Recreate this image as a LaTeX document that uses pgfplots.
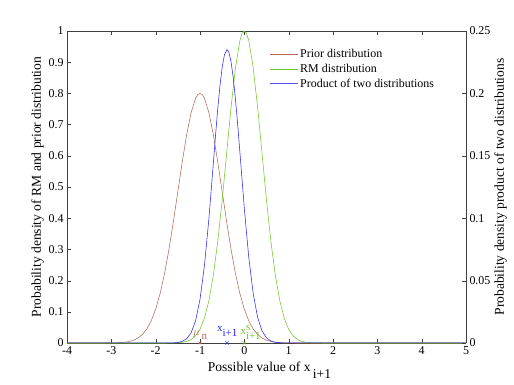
\documentclass[border=0pt]{standalone}
\usepackage{fontspec}
\setmainfont{Liberation Serif}
\usepackage{pgfplots}
\pgfplotsset{compat=1.18}
\definecolor{priorc}{RGB}{180,105,85}
\definecolor{rmc}{RGB}{110,200,40}
\definecolor{prodc}{RGB}{40,40,245}

\begin{document}
\begin{tikzpicture}
\pgfplotsset{
  common/.style={
    scale only axis, width=399bp, height=312bp,
    xmin=-4, xmax=5,
    xtick={-4,-3,...,5},
    tick align=inside,
    tick label style={font=\fontsize{12}{13}\selectfont},
    label style={font=\fontsize{13.6}{15}\selectfont},
    /pgf/number format/assume math mode=true,
    axis line style={black!75},
    major tick style={black!75},
    major tick length=4pt,
  },
}
\begin{axis}[common, name=ax,
  ymin=0, ymax=1,
  ytick={0,0.1,...,1},
  yticklabel style={/pgf/number format/fixed},
  axis y line*=left, axis x line*=box,
  xlabel={Possible value of x\raisebox{-1ex}{\,i+1}},
  ylabel={Probability density of RM and prior distribution},
  xlabel style={yshift=-1pt, xshift=3pt},
  ylabel style={yshift=-2pt},
  legend style={draw=none, fill=none, at={(0.5,0.955)}, anchor=north west,
    font=\fontsize{12}{13}\selectfont, row sep=1pt},
  legend cell align=left,
  legend image code/.code={\draw[#1] (0bp,0bp) -- (28bp,0bp);},
  legend entries={Prior distribution, RM distribution, Product of two distributions},
]
\addlegendimage{priorc, line width=0.55pt}
\addlegendimage{rmc, line width=0.55pt}
\addlegendimage{prodc!80!white, line width=0.55pt}
% prior: mean -1
\addplot[priorc, line width=0.55pt, forget plot] coordinates {
(-4,0) (-3.2,0) (-3,0.0003) (-2.9,0.0006) (-2.8,0.0012) (-2.7,0.0025) (-2.6,0.0048)
(-2.5,0.0089) (-2.4,0.0159) (-2.3,0.0272) (-2.2,0.0449) (-2.1,0.0711)
(-2,0.1083) (-1.9,0.1583) (-1.8,0.2224) (-1.7,0.3003) (-1.6,0.3894)
(-1.5,0.4852) (-1.4,0.5809) (-1.3,0.6682) (-1.2,0.7385) (-1.1,0.7842) (-1.05,0.796)
(-1,0.8) (-0.95,0.796) (-0.9,0.7842) (-0.8,0.7385) (-0.7,0.6682) (-0.6,0.5809)
(-0.5,0.4852) (-0.4,0.3894) (-0.3,0.3003) (-0.2,0.2224) (-0.1,0.1583)
(0,0.1083) (0.1,0.0711) (0.2,0.0449) (0.3,0.0272) (0.4,0.0159)
(0.5,0.0089) (0.6,0.0048) (0.7,0.0025) (0.8,0.0012) (0.9,0.0006) (1,0.0003) (1.2,0) (5,0)};
% RM: mean 0
\addplot[rmc, line width=0.55pt, forget plot] coordinates {
(-4,0) (-1.8,0) (-1.6,0.0003) (-1.5,0.0009) (-1.4,0.0022) (-1.3,0.0051) (-1.2,0.0111)
(-1.1,0.0228) (-1,0.0439) (-0.9,0.0796) (-0.8,0.1353) (-0.7,0.2163)
(-0.6,0.3247) (-0.5,0.4578) (-0.4,0.6065) (-0.3,0.7548) (-0.2,0.8825)
(-0.1,0.9692) (-0.05,0.9922) (0,1) (0.05,0.9922) (0.1,0.9692) (0.2,0.8825) (0.3,0.7548) (0.4,0.6065)
(0.5,0.4578) (0.6,0.3247) (0.7,0.2163) (0.8,0.1353) (0.9,0.0796)
(1,0.0439) (1.1,0.0228) (1.2,0.0111) (1.3,0.0051) (1.4,0.0022) (1.5,0.0009) (1.6,0.0003) (1.8,0) (5,0)};
% markers and their labels
\addplot[priorc, only marks, mark=asterisk, mark size=2.5pt, forget plot] coordinates {(-1,0)};
\addplot[rmc, only marks, mark=x, mark size=2.5pt, forget plot] coordinates {(0,0)};
\node[priorc, anchor=base west, inner sep=0pt, font=\fontsize{11}{12}\selectfont]
  at (axis cs:-1.16,0.024) {$\mu$\raisebox{-0.7ex}{\,n}};
\node[prodc, anchor=base west, inner sep=0pt, font=\fontsize{11}{12}\selectfont]
  at (axis cs:-0.62,0.036) {x\raisebox{-0.9ex}{i+1}};
\node[rmc, anchor=base west, inner sep=0pt, font=\fontsize{11}{12}\selectfont]
  at (axis cs:-0.09,0.026) {x$^{\mbox{s}}_{\mbox{i+1}}$};
\end{axis}
\begin{axis}[common,
  ymin=0, ymax=0.25,
  ytick={0,0.05,...,0.25},
  yticklabel style={/pgf/number format/fixed, /pgf/number format/precision=2},
  axis y line*=right, axis x line=none,
  ylabel={Probability density product of two distributions},
  ylabel style={yshift=3pt},
]
\addplot[prodc, line width=0.55pt] coordinates {
(-4,0) (-1.8,0) (-1.6,0.0001) (-1.5,0.0004) (-1.4,0.0013) (-1.3,0.0034) (-1.2,0.0082)
(-1.1,0.0178) (-1,0.0349) (-0.9,0.0620) (-0.8,0.0993) (-0.7,0.1436) (-0.65,0.1662)
(-0.6,0.1875) (-0.55,0.2061) (-0.5,0.2209) (-0.45,0.2307) (-0.39,0.235) (-0.35,0.2331)
(-0.3,0.2254) (-0.25,0.2126) (-0.2,0.1953) (-0.15,0.1750)
(-0.1,0.1528) (0,0.1078) (0.1,0.0687) (0.2,0.0395) (0.3,0.0205)
(0.4,0.0096) (0.5,0.0041) (0.6,0.0016) (0.7,0.0005) (0.8,0.0002) (1,0) (5,0)};
\addplot[prodc, only marks, mark=x, mark size=2.5pt] coordinates {(-0.39,0)};
\end{axis}
\path[use as bounding box] ([shift={(-67bp,-42bp)}]ax.south west) rectangle ([shift={(48bp,31bp)}]ax.north east);
\end{tikzpicture}
\end{document}
